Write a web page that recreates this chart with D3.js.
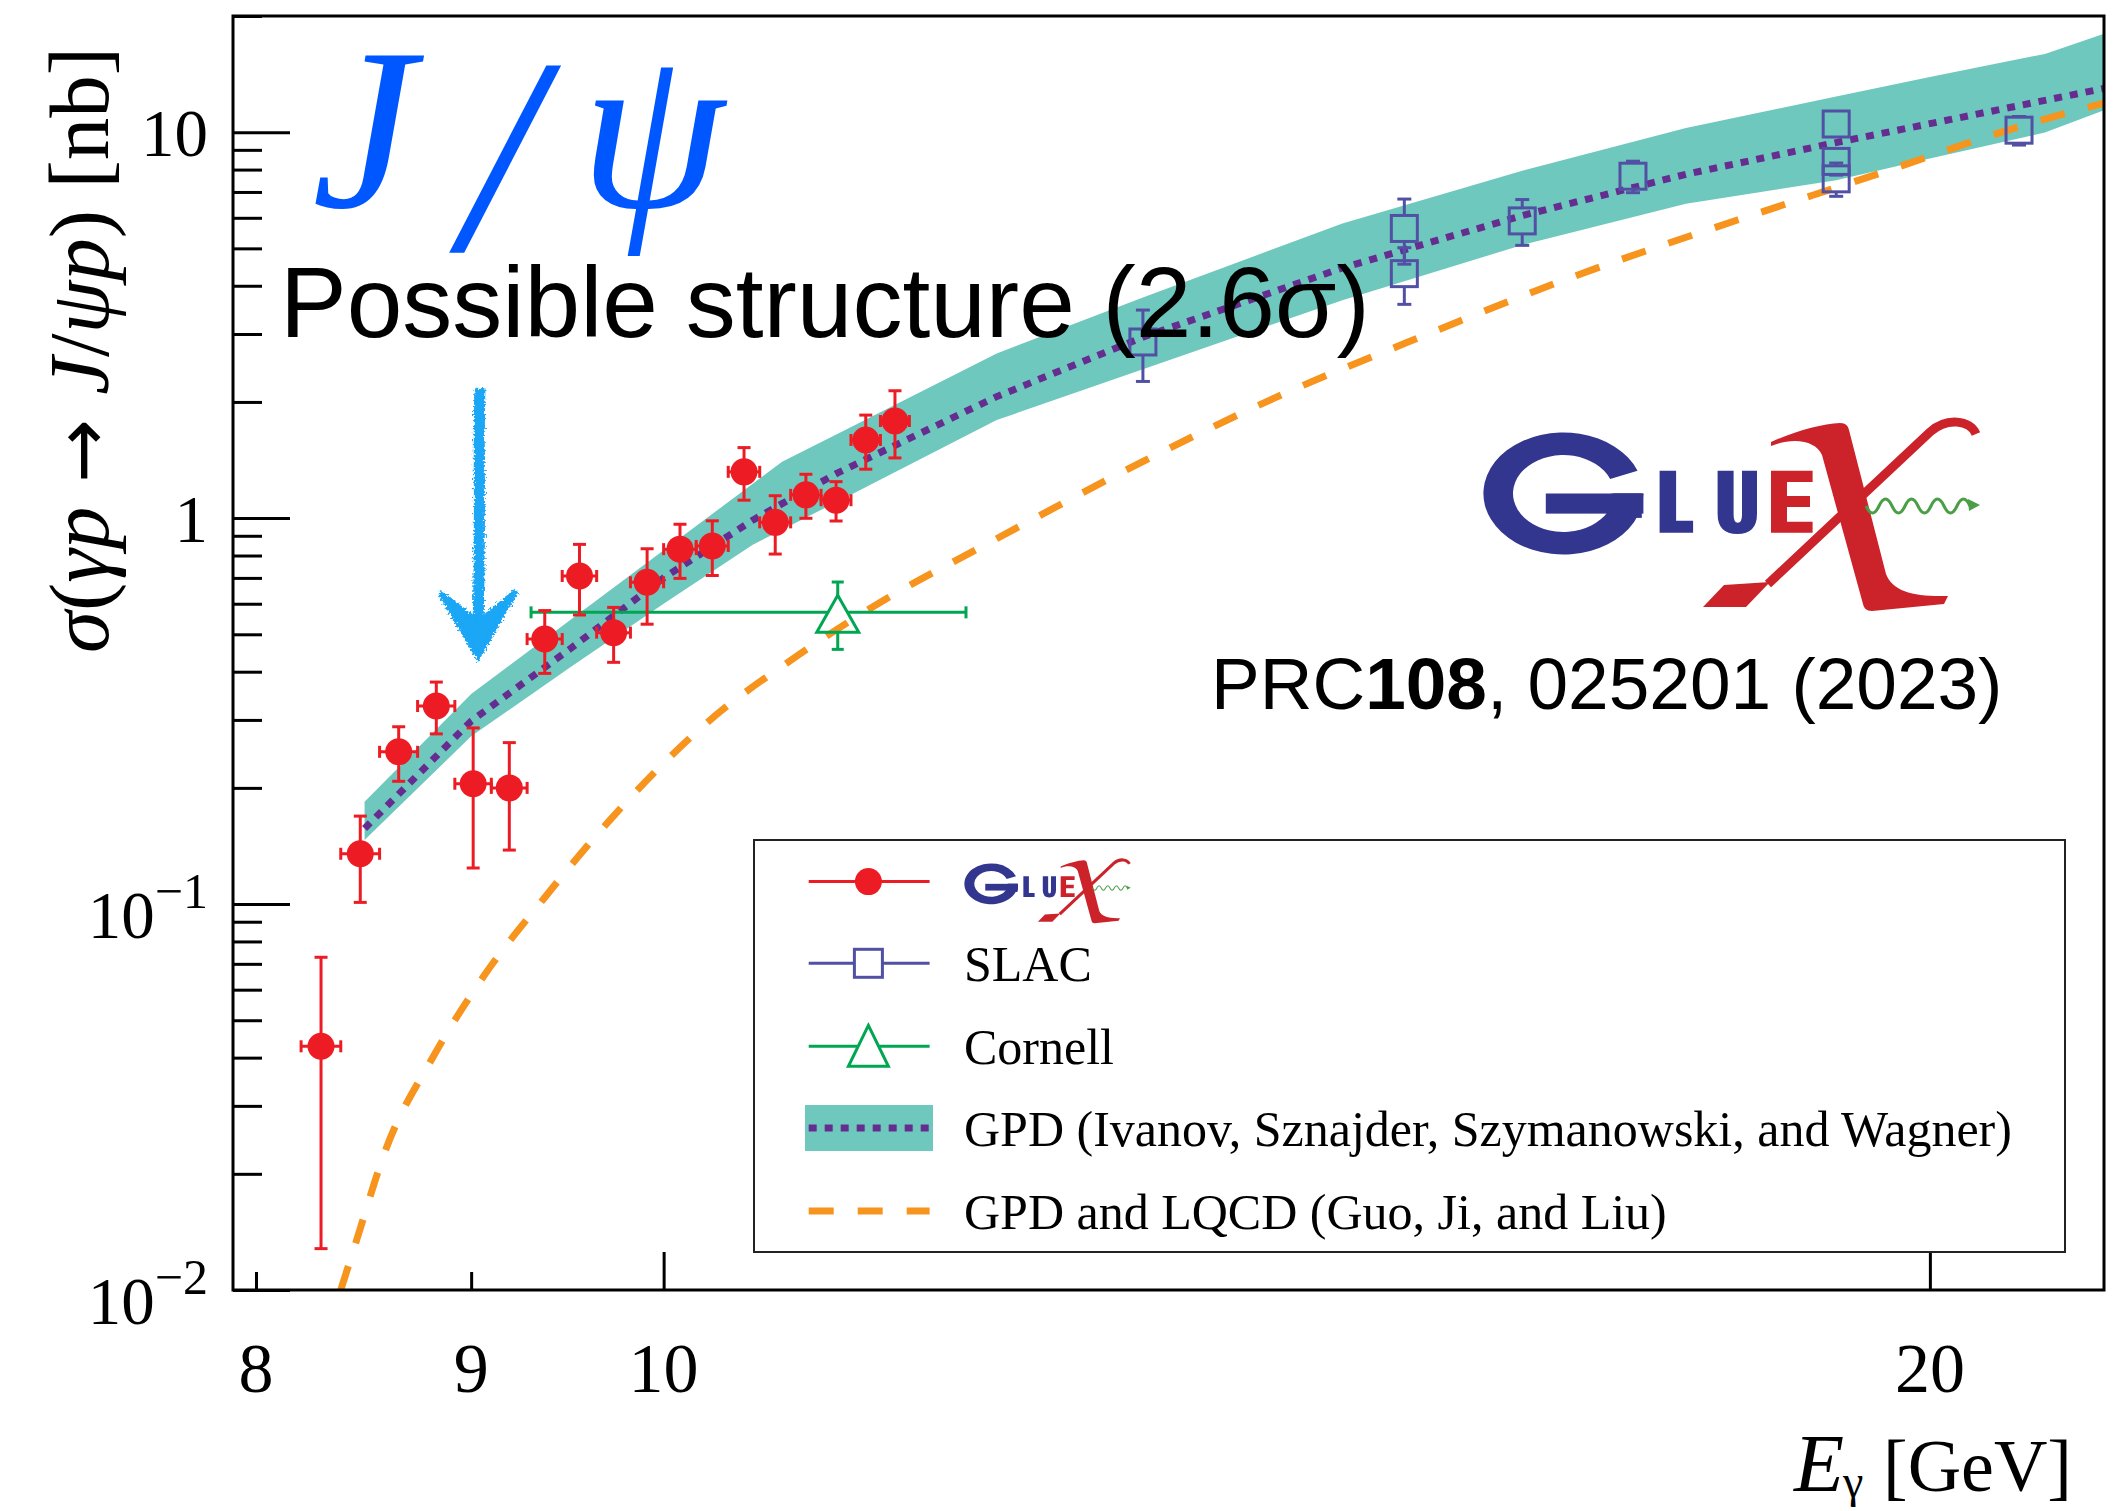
<!DOCTYPE html>
<html>
<head>
<meta charset="utf-8">
<script src="https://cdn.jsdelivr.net/npm/d3@7"></script>
<style>
  body { margin: 0; background: #fff; }
  svg { display: block; }
</style>
</head>
<body>
<svg id="chart"></svg>
<script>
// GlueX points (bins of 0.18 GeV)
var gluexE = [8.29, 8.47, 8.65, 8.83, 9.01, 9.19, 9.37, 9.55, 9.73, 9.91, 10.09, 10.27, 10.45, 10.63, 10.81, 10.99, 11.17, 11.35];
var gluexSigma = [0.0428, 0.135, 0.248, 0.326, 0.205, 0.200, 0.486, 0.708, 0.505, 0.682, 0.831, 0.847, 1.318, 0.975, 1.149, 1.113, 1.594, 1.785];
var gluexErr = [0.030, 0.034, 0.040, 0.050, 0.081, 0.062, 0.090, 0.147, 0.082, 0.151, 0.133, 0.137, 0.205, 0.168, 0.150, 0.130, 0.255, 0.353];
var gluexHalfBin = 0.09;

// SLAC
var slacE = [13, 15, 15, 16, 17, 19, 19, 19, 21];
var slacSigma = [2.86, 5.63, 4.30, 5.89, 7.69, 10.5, 8.40, 7.57, 10.12];
var slacErr = [0.60, 1.08, 0.72, 0.80, 0.72, 0.40, 0.66, 0.75, 0.86];

// Cornell
var cornellE = [11.0];
var cornellSigma = [0.57];
var cornellErr = [0.113];
var cornellELow = [9.30];
var cornellEHigh = [11.80];

// GPD band (Ivanov et al.) and central curve
var bandE = [8.49, 9.0, 9.5, 10.0, 10.5, 10.67, 11.0, 12.0, 13.0, 14.5, 16.0, 17.5, 19.0, 20.0, 21.3, 22.0];
var bandHigh = [0.184, 0.350, 0.544, 0.825, 1.228, 1.399, 1.654, 2.671, 3.73, 5.80, 7.95, 10.26, 12.37, 13.9, 15.95, 18.0];
var bandLow = [0.1466, 0.272, 0.410, 0.600, 0.853, 0.933, 1.105, 1.795, 2.43, 3.67, 5.10, 6.52, 7.51, 8.55, 9.98, 11.40];
var bandCentral = [0.157, 0.298, 0.458, 0.700, 0.988, 1.09, 1.31, 2.065, 2.945, 4.45, 6.08, 7.78, 9.40, 10.52, 12.09, 12.98];

// GPD and LQCD (Guo, Ji, Liu)
var lqcdE = [8.38, 8.45, 8.59, 8.81, 9.06, 9.37, 9.71, 10.24, 10.76, 11.33, 11.87, 13.35, 13.96, 15.02, 16.45, 18.0, 19.4, 20.92, 22.0];
var lqcdSigma = [0.0100, 0.0133, 0.0232, 0.0398, 0.0648, 0.104, 0.165, 0.295, 0.44, 0.63, 0.83, 1.62, 2.04, 2.85, 4.22, 5.92, 7.74, 10.2, 11.9];

// axis ticks
var xMajorTicks = [10, 20];
var xMinorTicks = [8, 9];
var xTickLabels = [8, 9, 10, 20];
var yMajorTicks = [0.01, 0.1, 1, 10];
var yLabelBase = ["10", "10", "1", "10"];
var yLabelExp = ["\u22122", "\u22121", "", ""];
var yMinorTicks = [];
[0.01, 0.1, 1, 10].forEach(function(d) {
  for (var k = 2; k <= 9; k++) if (d * k <= 20) yMinorTicks.push(d * k);
});
yMinorTicks.push(20);

var legendLabels = ["", "SLAC", "Cornell", "GPD (Ivanov, Sznajder, Szymanowski, and Wagner)", "GPD and LQCD (Guo, Ji, and Liu)"];

var RED = "#ed1c24", SLAC = "#5250a4", GREEN = "#00a651", ORANGE = "#f7941d",
    PURPLE = "#662d91", TEAL = "#6fc8bd";

var W = 2127, H = 1511;
var M = { left: 233, right: 2104, top: 16, bottom: 1290 };
var SERIF = "'Liberation Serif', 'Times New Roman', serif";
var SANS = "'Liberation Sans', Arial, sans-serif";

var svg = d3.select("#chart").attr("width", W).attr("height", H);
svg.append("rect").attr("width", W).attr("height", H).attr("fill", "#fff");

var x = d3.scaleLog().domain([7.9, 22.0]).range([M.left, M.right]);
var y = d3.scaleLog().domain([0.01, 20]).range([M.bottom, M.top]);

var defs = svg.append("defs");
defs.append("clipPath").attr("id", "plotclip").append("rect")
  .attr("x", M.left).attr("y", M.top)
  .attr("width", M.right - M.left).attr("height", M.bottom - M.top);
var rough = defs.append("filter").attr("id", "rough")
  .attr("x", "-30%").attr("y", "-10%").attr("width", "160%").attr("height", "120%");
rough.append("feTurbulence").attr("type", "fractalNoise").attr("baseFrequency", 0.5)
  .attr("numOctaves", 2).attr("result", "n");
rough.append("feDisplacementMap").attr("in", "SourceGraphic").attr("in2", "n")
  .attr("scale", 8).attr("xChannelSelector", "R").attr("yChannelSelector", "G");

var plot = svg.append("g").attr("clip-path", "url(#plotclip)");

// band
var bandData = bandE.map(function(e, i) { return { e: e, lo: bandLow[i], hi: bandHigh[i], c: bandCentral[i] }; });
plot.append("path")
  .attr("d", d3.area().x(function(d) { return x(d.e); })
    .y0(function(d) { return y(d.lo); }).y1(function(d) { return y(d.hi); })(bandData))
  .attr("fill", TEAL);
plot.append("path")
  .attr("d", d3.line().x(function(d) { return x(d.e); }).y(function(d) { return y(d.c); })(bandData))
  .attr("fill", "none").attr("stroke", PURPLE).attr("stroke-width", 7)
  .attr("stroke-dasharray", "8 8");

// GPD + LQCD dashed
var lqcdData = lqcdE.map(function(e, i) { return { e: e, s: lqcdSigma[i] }; });
plot.append("path")
  .attr("d", d3.line().x(function(d) { return x(d.e); }).y(function(d) { return y(d.s); })
    .curve(d3.curveMonotoneX)(lqcdData))
  .attr("fill", "none").attr("stroke", ORANGE).attr("stroke-width", 7)
  .attr("stroke-dasharray", "25 24");

function seg(g, x1, y1, x2, y2, col) {
  g.append("line").attr("x1", x1).attr("y1", y1).attr("x2", x2).attr("y2", y2)
    .attr("stroke", col).attr("stroke-width", 3);
}

// SLAC (open squares, bars stop at the marker edge)
var gS = plot.append("g");
slacE.forEach(function(e, i) {
  var cx = x(e), cy = y(slacSigma[i]), h = 13;
  var yt = y(slacSigma[i] + slacErr[i]), yb = y(slacSigma[i] - slacErr[i]);
  if (yt < cy - h) { seg(gS, cx, cy - h, cx, yt, SLAC); seg(gS, cx - 7, yt, cx + 7, yt, SLAC); }
  if (yb > cy + h) { seg(gS, cx, cy + h, cx, yb, SLAC); seg(gS, cx - 7, yb, cx + 7, yb, SLAC); }
  gS.append("rect").attr("x", cx - h).attr("y", cy - h).attr("width", 2 * h).attr("height", 2 * h)
    .attr("fill", "none").attr("stroke", SLAC).attr("stroke-width", 3);
});

// Cornell (open triangle)
var gC = plot.append("g");
cornellE.forEach(function(e, i) {
  var cx = x(e), cy = y(cornellSigma[i]);
  var xl = x(cornellELow[i]), xr = x(cornellEHigh[i]);
  var yt = y(cornellSigma[i] + cornellErr[i]), yb = y(cornellSigma[i] - cornellErr[i]);
  seg(gC, xl, cy, cx - 10, cy, GREEN); seg(gC, cx + 10, cy, xr, cy, GREEN);
  seg(gC, xl, cy - 6, xl, cy + 6, GREEN); seg(gC, xr, cy - 6, xr, cy + 6, GREEN);
  seg(gC, cx, cy - 17, cx, yt, GREEN); seg(gC, cx - 6, yt, cx + 6, yt, GREEN);
  seg(gC, cx, cy + 20, cx, yb, GREEN); seg(gC, cx - 6, yb, cx + 6, yb, GREEN);
  gC.append("path").attr("d", "M" + cx + "," + (cy - 17) + " L" + (cx + 21) + "," + (cy + 20) +
      " L" + (cx - 21) + "," + (cy + 20) + " Z")
    .attr("fill", "none").attr("stroke", GREEN).attr("stroke-width", 3);
});

// GlueX (filled circles)
var gG = plot.append("g");
gluexE.forEach(function(e, i) {
  var cx = x(e), cy = y(gluexSigma[i]);
  var yt = y(gluexSigma[i] + gluexErr[i]), yb = y(gluexSigma[i] - gluexErr[i]);
  var xl = x(e - gluexHalfBin), xr = x(e + gluexHalfBin);
  seg(gG, cx, yt, cx, yb, RED);
  seg(gG, cx - 6.5, yt, cx + 6.5, yt, RED); seg(gG, cx - 6.5, yb, cx + 6.5, yb, RED);
  seg(gG, xl, cy, xr, cy, RED);
  seg(gG, xl, cy - 6, xl, cy + 6, RED); seg(gG, xr, cy - 6, xr, cy + 6, RED);
  gG.append("circle").attr("cx", cx).attr("cy", cy).attr("r", 13.5).attr("fill", RED);
});

// axes (ticks inward)
function styleAxis(g) {
  g.select(".domain").remove();
  g.selectAll("line").attr("stroke", "#000").attr("stroke-width", 3);
  g.selectAll("text").remove();
}
svg.append("g").attr("transform", "translate(" + M.left + ",0)")
  .call(d3.axisLeft(y).tickValues(yMajorTicks).tickSize(-57).tickFormat(""))
  .call(styleAxis);
svg.append("g").attr("transform", "translate(" + M.left + ",0)")
  .call(d3.axisLeft(y).tickValues(yMinorTicks).tickSize(-29).tickFormat(""))
  .call(styleAxis);
svg.append("g").attr("transform", "translate(0," + M.bottom + ")")
  .call(d3.axisBottom(x).tickValues(xMajorTicks).tickSize(-38).tickFormat(""))
  .call(styleAxis);
svg.append("g").attr("transform", "translate(0," + M.bottom + ")")
  .call(d3.axisBottom(x).tickValues(xMinorTicks).tickSize(-18).tickFormat(""))
  .call(styleAxis);

svg.append("rect").attr("x", M.left).attr("y", M.top)
  .attr("width", M.right - M.left).attr("height", M.bottom - M.top)
  .attr("fill", "none").attr("stroke", "#000").attr("stroke-width", 3);

// y tick labels
yMajorTicks.forEach(function(v, i) {
  var t = svg.append("text").attr("x", 208).attr("text-anchor", "end")
    .attr("font-family", SERIF).attr("font-size", 67);
  if (yLabelExp[i]) {
    t.attr("y", y(v) + 34).text(yLabelBase[i]);
    t.append("tspan").attr("dy", -30).attr("font-size", 50).text(yLabelExp[i]);
  } else {
    t.attr("y", y(v) + 24).text(yLabelBase[i]);
  }
});
// x tick labels
xTickLabels.forEach(function(v) {
  svg.append("text").attr("x", x(v)).attr("y", 1392).attr("text-anchor", "middle")
    .attr("font-family", SERIF).attr("font-size", 70).text(v);
});

// axis titles
svg.append("text").attr("x", 1794).attr("y", 1491).attr("font-family", SERIF)
  .attr("font-size", 82).attr("font-style", "italic").text("E");
svg.append("text").attr("x", 1843).attr("y", 1497).attr("font-family", SERIF)
  .attr("font-size", 46).text("\u03b3");
svg.append("text").attr("x", 1883).attr("y", 1491).attr("font-family", SERIF)
  .attr("font-size", 74).text("[GeV]");

var yt = svg.append("text").attr("font-family", SERIF).attr("font-size", 85)
  .attr("text-anchor", "middle").attr("transform", "translate(108,350) rotate(-90)");
yt.append("tspan").attr("font-style", "italic").text("\u03c3");
yt.append("tspan").text("(");
yt.append("tspan").attr("font-style", "italic").text("\u03b3p");
yt.append("tspan").attr("font-family", "'DejaVu Sans', sans-serif").attr("font-size", 76).text(" \u2192 ");
yt.append("tspan").attr("font-style", "italic").text("J");
yt.append("tspan").text("/");
yt.append("tspan").attr("font-style", "italic").text("\u03c8p");
yt.append("tspan").text(") [nb]");

// annotations
var BLUE = "#0057ff";
svg.append("text").attr("x", 312).attr("y", 207).attr("font-family", SERIF)
  .attr("font-style", "italic").attr("font-size", 232).attr("fill", BLUE).text("J");
svg.append("text").attr("x", 462).attr("y", 250).attr("font-family", SERIF)
  .attr("font-style", "italic").attr("font-size", 280).attr("fill", BLUE).text("/");
svg.append("text").attr("x", 580).attr("y", 207).attr("font-family", SERIF)
  .attr("font-style", "italic").attr("font-size", 232).attr("fill", BLUE).text("\u03c8");

svg.append("text").attr("x", 280).attr("y", 337).attr("font-family", SANS)
  .attr("font-size", 100).text("Possible structure (2.6\u03c3)");

var arrow = svg.append("g").attr("filter", "url(#rough)");
arrow.append("path").attr("d", "M480,388 C478,450 481,520 478,625")
  .attr("fill", "none").attr("stroke", "#1aa6f6").attr("stroke-width", 11);
arrow.append("path").attr("d", "M440,593 L478,657 L516,591 L479,622 Z")
  .attr("fill", "#1aa6f6").attr("stroke", "#1aa6f6").attr("stroke-width", 5);

var prc = svg.append("text").attr("x", 1211).attr("y", 709).attr("font-family", SANS).attr("font-size", 73);
prc.append("tspan").text("PRC");
prc.append("tspan").attr("font-weight", "bold").text("108");
prc.append("tspan").text(", 025201 (2023)");

// GlueX logo
function drawLogo(g) {
  var a = -22 * Math.PI / 180, r = 0.63;
  var gG = g.append("g").attr("transform", "translate(1563.4,493.5) scale(80,61)").attr("fill", "#33368f");
  gG.append("path").attr("d", "M1,0 A1,1 0 1 1 " + Math.cos(a) + "," + Math.sin(a) +
    " L" + r * Math.cos(a) + "," + r * Math.sin(a) + " A" + r + "," + r + " 0 1 0 " + r + ",0 Z");
  gG.append("rect").attr("x", -0.22).attr("y", 0).attr("width", 1.22).attr("height", 0.33);
  gG.append("rect").attr("x", 0.6).attr("y", 0).attr("width", 0.38).attr("height", 0.4);
  g.append("path").attr("fill", "#33368f").attr("d", "M1659.6,470.7 h16.5 v50 h17 v12 h-33.5 Z");
  g.append("path").attr("fill", "#33368f")
    .attr("d", "M1717.6,470.7 h16 v44 q0,8 4.2,8 q4.2,0 4.2,-8 v-44 h15 v43 q0,20.3 -19.7,20.3 q-19.7,0 -19.7,-20.3 Z");
  g.append("path").attr("fill", "#cc2229")
    .attr("d", "M1771,470.7 H1812.6 V482 H1787 V496 H1810 V507 H1787 V521.7 H1812.6 V532.7 H1771 Z");
  g.append("path").attr("fill", "#cc2229")
    .attr("d", "M1771,442 C1795,431 1822,424 1840,423 C1846,423 1848,426 1849,430 L1886,574 C1893,592 1915,597 1948,596 L1944,604 L1872,611 C1866,611 1864,608 1863,604 L1822,455 C1818,446 1808,441 1795,441 C1786,441 1778,443 1771,446 Z");
  g.append("path").attr("fill", "none").attr("stroke", "#cc2229").attr("stroke-width", 9)
    .attr("d", "M1976,434 C1970,420 1947,417 1930,432 L1768,584");
  g.append("path").attr("fill", "#cc2229").attr("d", "M1724,585 L1770,582 L1746,607 L1703,607 Z");
  g.append("path").attr("fill", "none").attr("stroke", "#4a9e46").attr("stroke-width", 3)
    .attr("d", "M1866,506 q6.5,14 13,0 t13,0 t13,0 t13,0 t13,0 t13,0 t13,0 t13,0");
  g.append("path").attr("fill", "#4a9e46").attr("d", "M1968,499 L1980,505 L1969,511 Z");
}
drawLogo(svg.append("g"));

// legend
var leg = svg.append("g");
leg.append("rect").attr("x", 754).attr("y", 840).attr("width", 1311).attr("height", 412)
  .attr("fill", "#fff").attr("stroke", "#222").attr("stroke-width", 2);
var rowY = [881.6, 963.3, 1046.3, 1128, 1211];
var lx1 = 808.7, lx2 = 929.6, lcx = 868.4;
// GlueX
seg(leg, lx1, rowY[0], lx2, rowY[0], RED);
leg.append("circle").attr("cx", lcx).attr("cy", rowY[0]).attr("r", 13.5).attr("fill", RED);
drawLogo(leg.append("g").attr("transform", "translate(467.4,718.5) scale(0.335)"));
// SLAC
seg(leg, lx1, rowY[1], lcx - 14, rowY[1], SLAC); seg(leg, lcx + 14, rowY[1], lx2, rowY[1], SLAC);
leg.append("rect").attr("x", lcx - 14).attr("y", rowY[1] - 14).attr("width", 28).attr("height", 28)
  .attr("fill", "none").attr("stroke", SLAC).attr("stroke-width", 3);
// Cornell
seg(leg, lx1, rowY[2], lcx - 11, rowY[2], GREEN); seg(leg, lcx + 11, rowY[2], lx2, rowY[2], GREEN);
leg.append("path").attr("d", "M" + lcx + "," + (rowY[2] - 21) + " L" + (lcx + 20) + "," + (rowY[2] + 20) +
    " L" + (lcx - 20) + "," + (rowY[2] + 20) + " Z")
  .attr("fill", "none").attr("stroke", GREEN).attr("stroke-width", 3);
// GPD band
leg.append("rect").attr("x", 805).attr("y", 1105).attr("width", 128).attr("height", 46).attr("fill", TEAL);
leg.append("line").attr("x1", lx1).attr("x2", lx2).attr("y1", rowY[3]).attr("y2", rowY[3])
  .attr("stroke", PURPLE).attr("stroke-width", 7).attr("stroke-dasharray", "8 8");
// LQCD
leg.append("line").attr("x1", lx1).attr("x2", lx2).attr("y1", rowY[4]).attr("y2", rowY[4])
  .attr("stroke", ORANGE).attr("stroke-width", 7).attr("stroke-dasharray", "25 24");
legendLabels.forEach(function(l, i) {
  if (!l) return;
  leg.append("text").attr("x", 964).attr("y", rowY[i] + 18)
    .attr("font-family", SERIF).attr("font-size", 50).text(l);
});
</script>
</body>
</html>
